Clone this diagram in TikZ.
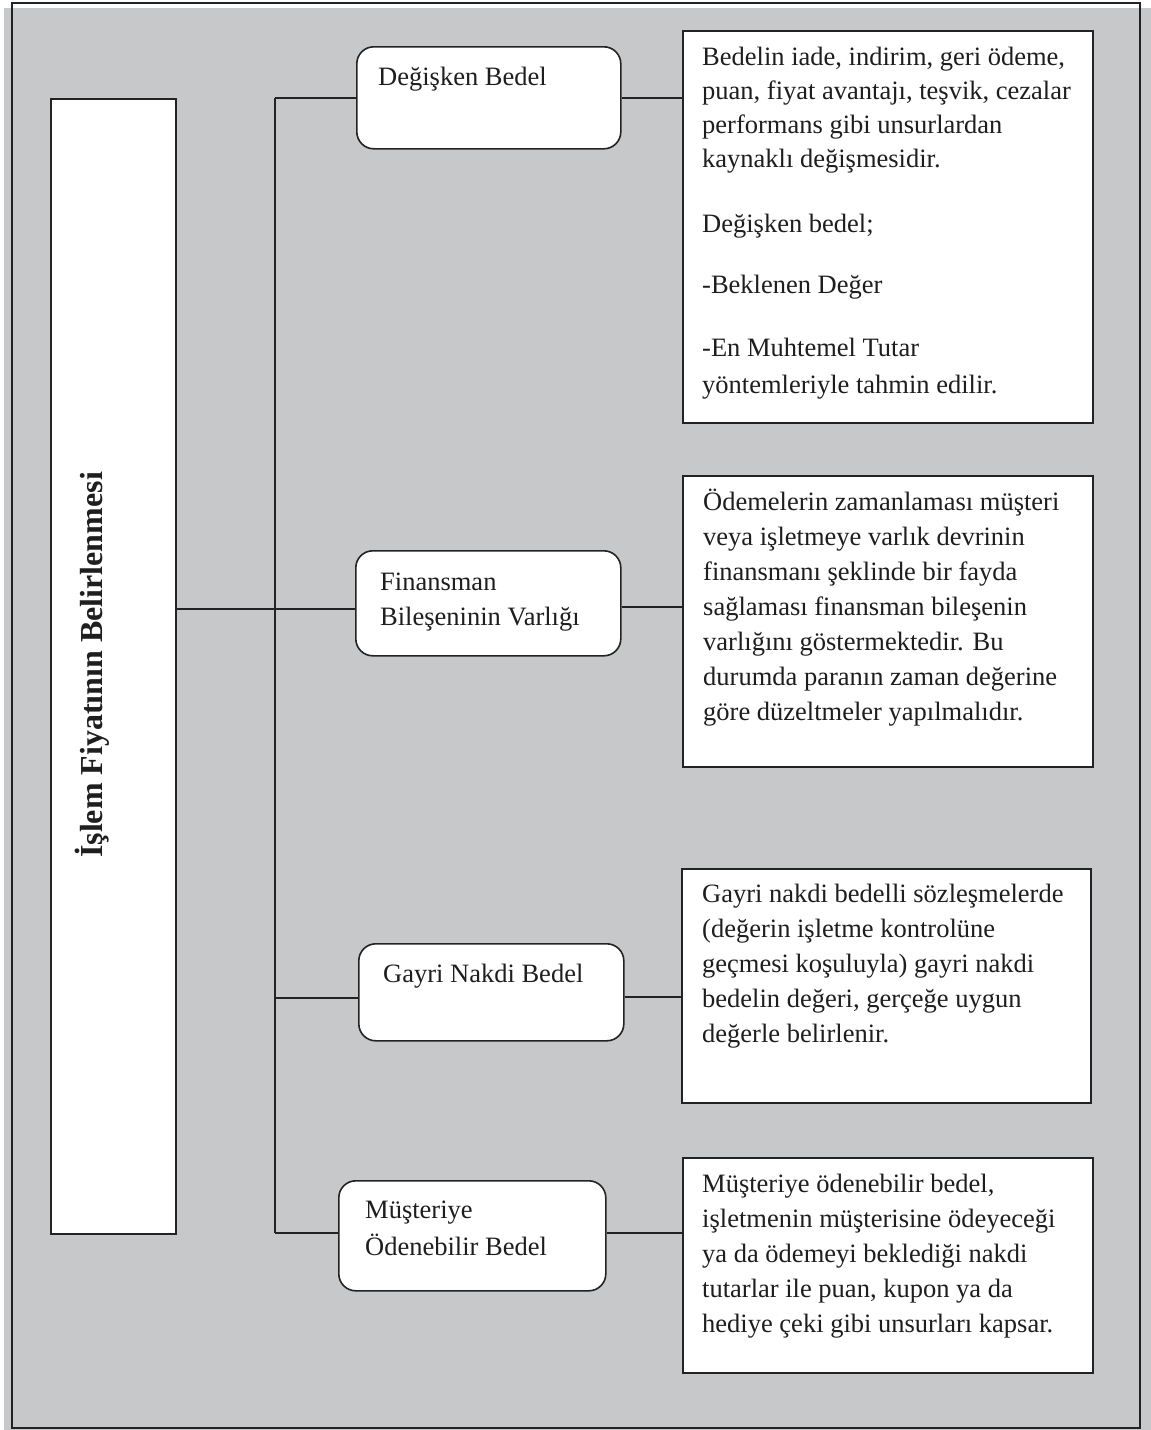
\documentclass[tikz,border=0pt]{standalone}
\usepackage{fontspec}
\setmainfont{Liberation Serif}
\definecolor{bg}{RGB}{199,200,202}
\definecolor{ln}{RGB}{35,35,35}
\definecolor{tx}{RGB}{30,30,30}
\begin{document}
\begin{tikzpicture}[x=1pt,y=-1pt,
  frame/.style={draw=ln, line width=1.8pt},
  conn/.style={draw=ln, line width=1.5pt},
  sqbox/.style={draw=ln, line width=1.8pt, fill=white, anchor=north west, inner sep=0pt},
  rbox/.style={draw=ln, line width=1.6pt, fill=white, rounded corners=17pt, anchor=north west, inner sep=0pt},
  txt/.style={anchor=north west, inner sep=0pt, align=left, text=tx, font=\fontsize{26.5}{35}\selectfont},
  txtA/.style={anchor=north west, inner sep=0pt, align=left, text=tx, font=\fontsize{26.5}{34}\selectfont},
  title/.style={rotate=90, anchor=base, inner sep=0pt, text=tx, font=\bfseries\fontsize{32}{38}\selectfont}]
\useasboundingbox (0,0) rectangle (1151,1430);
\fill[bg] (4,8) rectangle (1151,1430);
\draw[frame] (12,3) rectangle (1140,1428);

% main box
\node[sqbox, minimum width=125pt, minimum height=1135pt] (m) at (50,98) {};
\node[title] (mt) at (102,665) {İşlem Fiyatının Belirlenmesi};

% middle rounded boxes
\node[rbox, minimum width=264pt, minimum height=102pt] (b1) at (356,46) {};
\node[txt] (b1t) at (378,60.5) {\strut Değişken Bedel};
\node[rbox, minimum width=265pt, minimum height=105pt] (b2) at (355,550) {};
\node[txt] (b2t) at (380,565.5) {\strut Finansman\\Bileşeninin Varlığı};
\node[rbox, minimum width=265pt, minimum height=97pt] (b3) at (358,943) {};
\node[txt] (b3t) at (383,957.5) {\strut Gayri Nakdi Bedel};
\node[rbox, minimum width=267pt, minimum height=110pt] (b4) at (338,1180) {};
\node[txt] (b4t) at (365,1193.5) {\strut Müşteriye\\[2pt]Ödenebilir Bedel};

% right boxes
\node[sqbox, minimum width=410pt, minimum height=392pt] (r1) at (682,30) {};
\node[txtA] (r1t) at (702,41.5) {\strut Bedelin iade, indirim, geri ödeme,\\
puan, fiyat avantajı, teşvik, cezalar\\
performans gibi unsurlardan\\
kaynaklı değişmesidir.\\[31pt]
Değişken bedel;\\[27pt]
-Beklenen Değer\\[29pt]
-En Muhtemel Tutar\\[3pt]
yöntemleriyle tahmin edilir.};

\node[sqbox, minimum width=410pt, minimum height=291pt] (r2) at (682,475) {};
\node[txt] (r2t) at (703,485.5) {\strut Ödemelerin zamanlaması müşteri\\
veya işletmeye varlık devrinin\\
finansmanı şeklinde bir fayda\\
sağlaması finansman bileşenin\\
varlığını göstermektedir. Bu\\
durumda paranın zaman değerine\\
göre düzeltmeler yapılmalıdır.};

\node[sqbox, minimum width=409pt, minimum height=234pt] (r3) at (681,868) {};
\node[txt] (r3t) at (702,877.5) {\strut Gayri nakdi bedelli sözleşmelerde\\
(değerin işletme kontrolüne\\
geçmesi koşuluyla) gayri nakdi\\
bedelin değeri, gerçeğe uygun\\
değerle belirlenir.};

\node[sqbox, minimum width=410pt, minimum height=215pt] (r4) at (682,1157) {};
\node[txt] (r4t) at (702,1167.5) {\strut Müşteriye ödenebilir bedel,\\
işletmenin müşterisine ödeyeceği\\
ya da ödemeyi beklediği nakdi\\
tutarlar ile puan, kupon ya da\\
hediye çeki gibi unsurları kapsar.};

% trunk
\coordinate (t0) at (275,98);
\coordinate (t1) at (275,609);
\coordinate (t2) at (275,998);
\coordinate (t3) at (275,1233);
\draw[conn] (t0) -- (t3);
\draw[conn] (m.east |- t1) -- (t1);
\draw[conn] (t0) -- (t0 -| b1.west);
\draw[conn] (t1) -- (t1 -| b2.west);
\draw[conn] (t2) -- (t2 -| b3.west);
\draw[conn] (t3) -- (t3 -| b4.west);

% to right boxes
\coordinate (c1) at (620,98);
\coordinate (c2) at (620,607);
\coordinate (c3) at (623,997);
\coordinate (c4) at (605,1233);
\draw[conn] (c1 -| b1.east) -- (c1 -| r1.west);
\draw[conn] (c2 -| b2.east) -- (c2 -| r2.west);
\draw[conn] (c3 -| b3.east) -- (c3 -| r3.west);
\draw[conn] (c4 -| b4.east) -- (c4 -| r4.west);
\end{tikzpicture}
\end{document}
